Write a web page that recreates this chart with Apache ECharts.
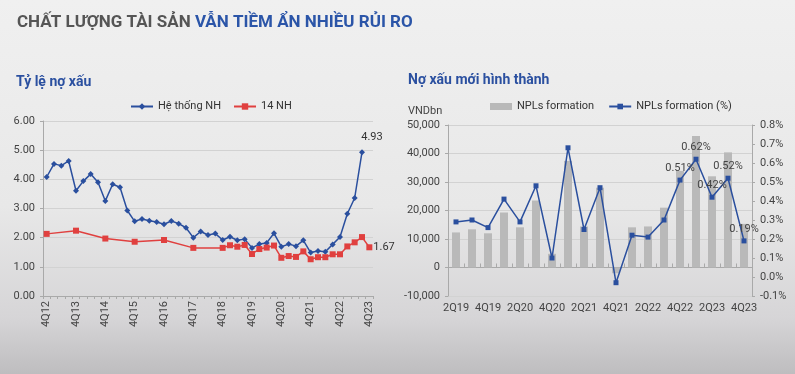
<!DOCTYPE html>
<html>
<head>
<meta charset="utf-8">
<script src="https://cdn.jsdelivr.net/npm/echarts@6/dist/echarts.min.js"></script>
<style>
html,body{margin:0;padding:0;}
body{width:795px;height:374px;background:linear-gradient(180deg,#f0f0f0 0%,#e8e8e8 55%,#d6d5d7 85%,#bebdbf 100%);}
#c{width:795px;height:374px;}
</style>
</head>
<body>
<div id="c"></div>
<script>
// ---- Left chart data: Tỷ lệ nợ xấu ----
var quartersL = ['4Q12','1Q13','2Q13','3Q13','4Q13','1Q14','2Q14','3Q14','4Q14','1Q15','2Q15','3Q15','4Q15',
  '1Q16','2Q16','3Q16','4Q16','1Q17','2Q17','3Q17','4Q17','1Q18','2Q18','3Q18','4Q18','1Q19','2Q19','3Q19','4Q19',
  '1Q20','2Q20','3Q20','4Q20','1Q21','2Q21','3Q21','4Q21','1Q22','2Q22','3Q22','4Q22','1Q23','2Q23','3Q23','4Q23'];
var heThongNH = [4.08,4.53,4.47,4.63,3.61,3.94,4.18,3.90,3.26,3.83,3.73,2.93,2.56,
  2.64,2.58,2.54,2.46,2.57,2.48,2.34,2.00,2.21,2.09,2.14,1.92,2.03,1.91,1.95,1.65,
  1.78,1.82,2.15,1.69,1.78,1.71,1.91,1.49,1.54,1.52,1.77,2.02,2.82,3.36,4.93,null];
var nh14 = [2.13,null,null,null,2.24,null,null,null,1.97,null,null,null,1.86,
  null,null,null,1.92,null,null,null,1.65,null,null,null,1.65,1.74,1.69,1.75,1.44,
  1.61,1.66,1.73,1.31,1.37,1.34,1.53,1.26,1.33,1.33,1.43,1.43,1.70,1.84,2.02,1.67];

// ---- Right chart data: Nợ xấu mới hình thành ----
var quartersR = ['2Q19','3Q19','4Q19','1Q20','2Q20','3Q20','4Q20','1Q21','2Q21','3Q21','4Q21',
  '1Q22','2Q22','3Q22','4Q22','1Q23','2Q23','3Q23','4Q23'];
var nplFormation = [12300,13400,12000,19300,14100,23500,4800,37400,14400,28000,-2000,
  14100,14400,21000,33900,46100,32000,40400,15300];
var nplFormationPct = [0.29,0.30,0.26,0.41,0.29,0.48,0.10,0.68,0.25,0.47,-0.03,
  0.22,0.21,0.30,0.51,0.62,0.42,0.52,0.19];
var pctLabelIdx = [14,15,16,17,18];

var FONT = 'Roboto, "Noto Sans", Arial, sans-serif';
var BLUE = '#2a4f9e';
var RED = '#e0403f';
var AXC = '#a9a9a9';
var GRIDC = '#d2d2d2';
var TXT = '#444';

function commas(v){
  var s = Math.abs(Math.round(v)).toString().replace(/\B(?=(\d{3})+(?!\d))/g, ',');
  return (v < 0 ? '-' : '') + s;
}

var lastBlue = 43, lastRed = 44;
var blueData = heThongNH.map(function(v,i){
  return i===lastBlue ? {value:v,label:{show:true,position:'top',offset:[10,-1],formatter:function(p){return p.value.toFixed(2);}}} : v;
});
var redData = nh14.map(function(v,i){
  return i===lastRed ? {value:v,label:{show:true,position:'right',offset:[-4,0],formatter:function(p){return p.value.toFixed(2);}}} : v;
});
var pctData = nplFormationPct.map(function(v,i){
  return pctLabelIdx.indexOf(i)>=0 ? {value:v,label:{show:true,position:'top',formatter:function(p){return p.value.toFixed(2)+'%';}}} : v;
});

var chart = echarts.init(document.getElementById('c'), null, {renderer:'canvas'});
chart.setOption({
  backgroundColor:'transparent',
  textStyle:{fontFamily:FONT},
  animation:false,
  title:[
    {text:'{a|CHẤT LƯỢNG TÀI SẢN }{b|VẪN TIỀM ẨN NHIỀU RỦI RO}', left:12, top:9,
      textStyle:{rich:{a:{fontFamily:FONT,fontWeight:'bold',fontSize:17,color:'#555'},b:{fontFamily:FONT,fontWeight:'bold',fontSize:17,color:'#2b55a8'}}}},
    {text:'Tỷ lệ nợ xấu', left:11, top:70, textStyle:{fontFamily:FONT,fontWeight:'bold',fontSize:14,color:'#2b50a0'}},
    {text:'Nợ xấu mới hình thành', left:403, top:68, textStyle:{fontFamily:FONT,fontWeight:'bold',fontSize:14,color:'#2b50a0'}},
    {text:'VNDbn', left:403, top:101, textStyle:{fontFamily:FONT,fontWeight:'normal',fontSize:11,color:TXT}}
  ],
  legend:[
    {left:125, top:96, itemWidth:22, itemHeight:8, itemGap:12, data:['Hệ thống NH','14 NH'],
      textStyle:{fontFamily:FONT,fontSize:11,color:'#333'}},
    {left:485, top:96, itemWidth:22, itemHeight:7, itemGap:14,
      data:[{name:'NPLs formation',icon:'rect'},{name:'NPLs formation (%)'}],
      textStyle:{fontFamily:FONT,fontSize:11,color:'#333'}}
  ],
  grid:[
    {left:43, top:121, width:330, height:175},
    {left:448, top:125, width:304, height:171}
  ],
  xAxis:[
    {gridIndex:0, type:'category', data:quartersL, boundaryGap:true,
      axisLine:{lineStyle:{color:AXC}},
      axisTick:{show:true,interval:0,length:3,lineStyle:{color:AXC}},
      axisLabel:{interval:3,rotate:90,fontSize:11,color:TXT,fontFamily:FONT,margin:5}},
    {gridIndex:1, type:'category', data:quartersR, boundaryGap:true,
      axisLine:{show:false,onZero:false}, axisTick:{show:false},
      axisLabel:{interval:1,fontSize:11,color:TXT,fontFamily:FONT,margin:7}},
    {gridIndex:1, type:'category', data:quartersR, boundaryGap:true,
      axisLine:{show:true,onZero:true,onZeroAxisIndex:1,lineStyle:{color:AXC}},
      axisTick:{show:true,interval:0,length:4,lineStyle:{color:AXC}},
      axisLabel:{show:false}}
  ],
  yAxis:[
    {gridIndex:0, type:'value', min:0, max:6, interval:1,
      axisLine:{show:true,lineStyle:{color:AXC}},
      axisTick:{show:true,length:3,lineStyle:{color:AXC}},
      splitLine:{lineStyle:{color:GRIDC}},
      axisLabel:{fontSize:11,color:TXT,fontFamily:FONT,margin:8,formatter:function(v){return v.toFixed(2);}}},
    {gridIndex:1, type:'value', min:-10000, max:50000, interval:10000,
      axisLine:{show:true,lineStyle:{color:AXC}},
      axisTick:{show:true,length:3,lineStyle:{color:AXC}},
      splitLine:{lineStyle:{color:GRIDC}},
      axisLabel:{fontSize:11,color:TXT,fontFamily:FONT,margin:8,formatter:commas}},
    {gridIndex:1, type:'value', position:'right', min:-0.1, max:0.8, interval:0.1,
      axisLine:{show:true,lineStyle:{color:AXC}},
      axisTick:{show:true,length:3,lineStyle:{color:AXC}},
      splitLine:{show:false},
      axisLabel:{fontSize:11,color:TXT,fontFamily:FONT,margin:8,formatter:function(v){return v.toFixed(1)+'%';}}}
  ],
  series:[
    {name:'Hệ thống NH', type:'line', xAxisIndex:0, yAxisIndex:0, data:blueData,
      symbol:'diamond', symbolSize:6, connectNulls:true, showAllSymbol:true,
      lineStyle:{color:BLUE,width:1.5}, itemStyle:{color:BLUE},
      label:{fontSize:11,color:'#333',fontFamily:FONT}},
    {name:'14 NH', type:'line', xAxisIndex:0, yAxisIndex:0, data:redData,
      symbol:'rect', symbolSize:6, connectNulls:true, showAllSymbol:true,
      lineStyle:{color:RED,width:1.5}, itemStyle:{color:RED},
      label:{fontSize:11,color:'#333',fontFamily:FONT}},
    {name:'NPLs formation', type:'bar', xAxisIndex:1, yAxisIndex:1, data:nplFormation,
      barWidth:8, itemStyle:{color:'#b9b9b9'}},
    {name:'NPLs formation (%)', type:'line', xAxisIndex:1, yAxisIndex:2, data:pctData,
      symbol:'rect', symbolSize:5, showAllSymbol:true,
      lineStyle:{color:BLUE,width:1.5}, itemStyle:{color:BLUE},
      label:{fontSize:11,color:'#444',fontFamily:FONT,distance:4}}
  ]
});
</script>
</body>
</html>
